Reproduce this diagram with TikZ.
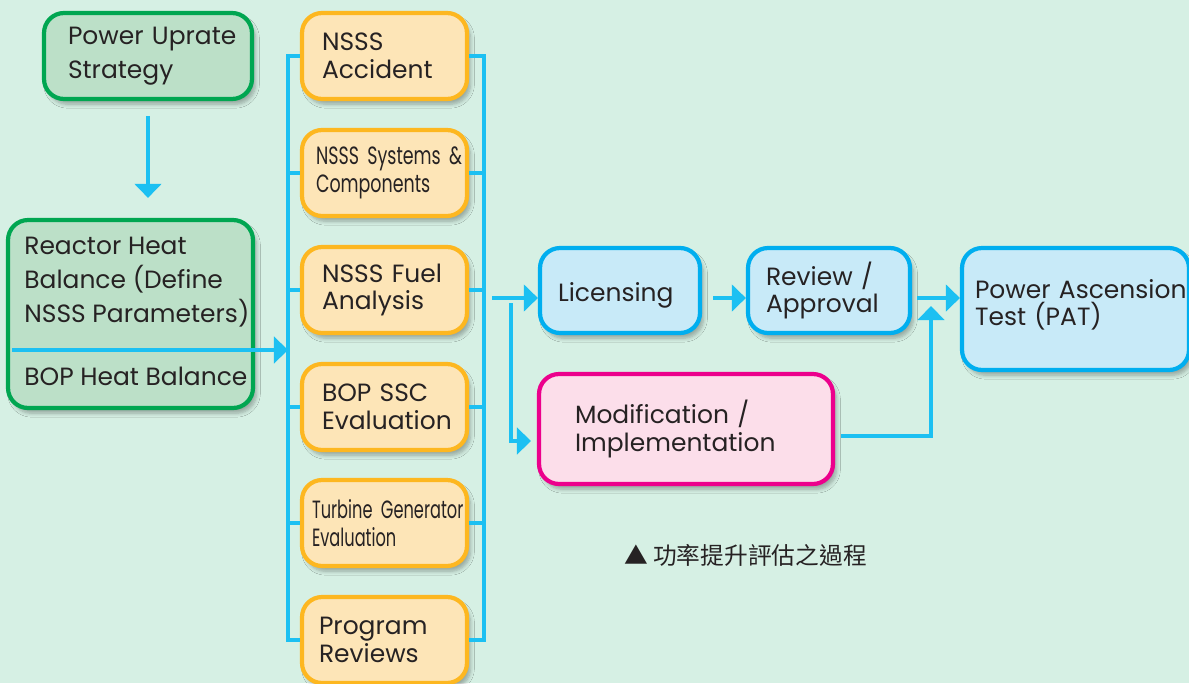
\documentclass[tikz,border=0pt]{standalone}
\usepackage{fontspec}
\setmainfont{Poppins}
\newfontfamily\condfont[FakeStretch=0.70]{Poppins}
\newfontfamily\tgfont[FakeStretch=0.65]{Poppins}
\newfontfamily\cjkfont{Noto Sans CJK TC}
\usetikzlibrary{positioning, arrows.meta, shadows.blur}
\hyphenpenalty=10000
\exhyphenpenalty=10000
\definecolor{BgMint}{RGB}{214,240,228}
\definecolor{GrnFill}{RGB}{188,224,200}
\definecolor{GrnLine}{RGB}{0,166,81}
\definecolor{OrFill}{RGB}{253,229,183}
\definecolor{OrLine}{RGB}{253,183,32}
\definecolor{BlFill}{RGB}{200,234,248}
\definecolor{BlLine}{RGB}{0,174,239}
\definecolor{PkFill}{RGB}{252,222,234}
\definecolor{PkLine}{RGB}{236,0,140}
\definecolor{ArrCyan}{RGB}{28,192,242}
\definecolor{TxtGray}{RGB}{38,34,35}

\begin{document}
\begin{tikzpicture}[x=0.02cm, y=-0.02cm,
      box/.style={rectangle, rounded corners=0.4cm, line width=2.4pt,
                  font=\fontsize{14.2}{15.9}\selectfont,
                  text=TxtGray, align=left,
                  blur shadow={shadow xshift=2pt, shadow yshift=-3pt,
                               shadow opacity=30, shadow blur steps=6}},
      grnbox/.style={box, fill=GrnFill, draw=GrnLine,
                     font=\fontsize{14.2}{19.3}\selectfont},
      orbox/.style={box, fill=OrFill, draw=OrLine, minimum width=3.3cm,
                    minimum height=1.72cm, text width=2.5cm, inner xsep=0.4cm},
      blubox/.style={box, fill=BlFill, draw=BlLine},
      pinkbox/.style={box, fill=PkFill, draw=PkLine},
      txt/.style={font=\fontsize{14.2}{19.3}\selectfont, text=TxtGray,
                  align=left, inner sep=0pt},
      bus/.style={line width=2.2pt, ArrCyan},
      arr/.style={line width=2.2pt, ArrCyan, -{Triangle[length=8pt, width=15pt]}}
    ]
    \useasboundingbox[fill=BgMint] (0,0) rectangle (1189,683);

    % Left column: strategy and heat balance
    \node[grnbox, minimum width=4.16cm, minimum height=1.72cm,
          text width=3.2cm, inner xsep=0.48cm] (pus) at (148,56)
          {Power~Uprate\\Strategy};
    \node[grnbox, minimum width=4.9cm, minimum height=3.76cm] (rhb) at (130.5,314) {};
    \node[txt, anchor=north west] (rhbtxt) at (24,237)
          {Reactor Heat\\Balance (Define\\NSSS Parameters)};
    \node[txt, anchor=west] (bop) at (24,376) {BOP Heat Balance};
    \draw[arr, shorten <=0.3cm, shorten >=0.4cm] (pus.south) -- (pus.south |- rhb.north);

    % Middle column: evaluations
    \node[orbox] (acc)  at (384.5,56)  {NSSS\\Accident};
    \node[orbox, inner xsep=0.28cm, text width=2.74cm] (sys) at (384.5,173)
          {\condfont NSSS~Systems~\&\\\condfont Components};
    \node[orbox] (fuel) at (384.5,290) {NSSS~Fuel\\Analysis};
    \node[orbox] (bopc) at (384.5,407) {BOP~SSC\\Evaluation};
    \node[orbox, inner xsep=0.2cm, text width=2.9cm] (tg) at (384.5,523)
          {\tgfont Turbine~Generator\\\tgfont Evaluation};
    \node[orbox, inner xsep=0.34cm, text width=2.62cm] (prog) at (384.5,640)
          {Program\\Reviews};

    % Buses on both sides
    \coordinate (lbx) at (288,0);
    \coordinate (rbx) at (484,0);
    \coordinate (feed) at (12,350);
    \draw[bus] (acc.west) -- (acc.west -| lbx) -- (prog.west -| lbx) -- (prog.west);
    \draw[bus] (acc.east) -- (acc.east -| rbx) -- (prog.east -| rbx) -- (prog.east);
    \foreach \b in {sys,fuel,bopc,tg} {
      \draw[bus] (\b.west) -- (\b.west -| lbx);
      \draw[bus] (\b.east) -- (\b.east -| rbx);
    }
    \draw[arr] (feed) -- (feed -| lbx);

    % Right part: licensing path
    \node[blubox, minimum width=3.2cm, minimum height=1.7cm,
          text width=2.48cm, inner xsep=0.36cm, text height=0.56cm] (lic) at (620,290.5)
          {Licensing};
    \node[blubox, minimum width=3.24cm, minimum height=1.7cm,
          text width=2.52cm, inner xsep=0.36cm] (rev) at (829,290.5) {Review~/\\Approval};
    \node[pinkbox, minimum width=5.88cm, minimum height=2.2cm,
          text width=4.44cm, inner xsep=0.72cm] (mod) at (686,429)
          {Modification~/\\Implementation};
    \node[blubox, minimum width=4.54cm, minimum height=2.44cm,
          text width=4.02cm, inner xsep=0.26cm, text depth=0.82cm] (pat) at (1075.5,309)
          {Power~Ascension\\Test~(PAT)};

    \coordinate (split) at (492,298);
    \coordinate (brk) at (511,303);
    \coordinate (modin) at (531,441);
    \coordinate (modout) at (841,436);
    \coordinate (join) at (931,306);
    \draw[arr] (split) -- (split -| lic.west);
    \draw[arr] (brk) |- (modin);
    \draw[arr, shorten <=0.22cm] (lic.east |- split) -- (rev.west |- split);
    \draw[arr, shorten <=0.1cm] (rev.east |- split) -- (pat.west |- split);
    \draw[arr] (modout) -| (join);

    % Caption
    \node[font=\cjkfont\fontsize{13.5}{15}\selectfont, text=TxtGray, anchor=west]
          (cap) at (618,555) {▲ 功率提升評估之過程};
  \end{tikzpicture}
\end{document}
